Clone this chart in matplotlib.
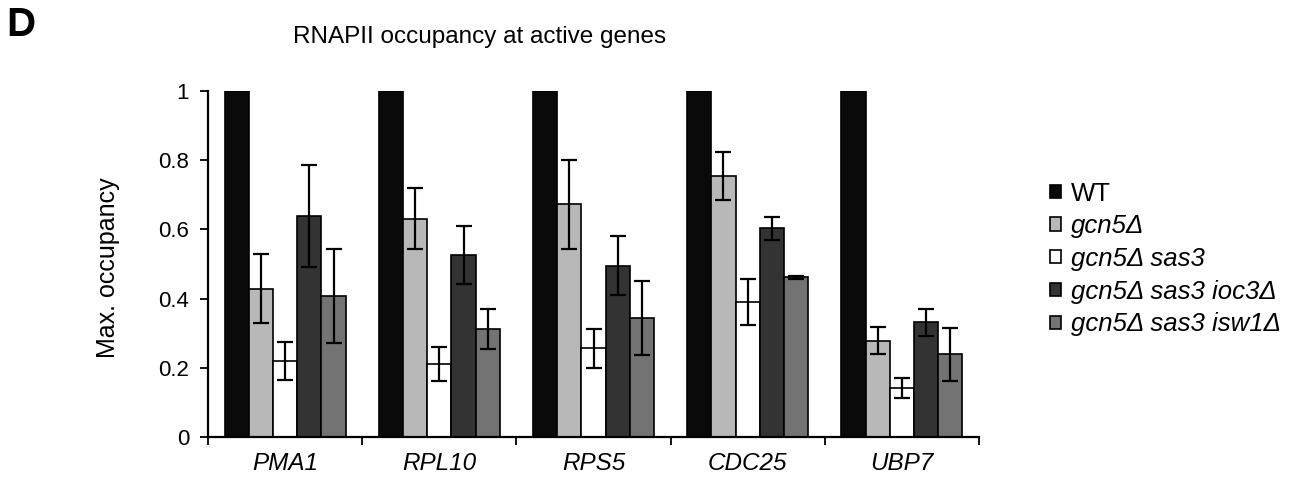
import matplotlib
matplotlib.use("Agg")
import matplotlib.pyplot as plt
import numpy as np

plt.rcParams['font.family'] = ['Liberation Sans', 'DejaVu Sans']

genes = ["PMA1", "RPL10", "RPS5", "CDC25", "UBP7"]
strains = ["WT", "gcn5Δ", "gcn5Δ sas3", "gcn5Δ sas3 ioc3Δ", "gcn5Δ sas3 isw1Δ"]
colors = ["#0a0a0a", "#b8b8b8", "#ffffff", "#333333", "#737373"]

wt = [1.0, 1.0, 1.0, 1.0, 1.0]
gcn5 = [0.429, 0.631, 0.672, 0.755, 0.278]
gcn5_sas3 = [0.219, 0.211, 0.256, 0.391, 0.142]
ioc3 = [0.638, 0.525, 0.495, 0.603, 0.331]
isw1 = [0.407, 0.312, 0.344, 0.461, 0.239]

wt_err = [0, 0, 0, 0, 0]
gcn5_err = [0.100, 0.088, 0.130, 0.069, 0.039]
gcn5_sas3_err = [0.055, 0.050, 0.057, 0.066, 0.029]
ioc3_err = [0.147, 0.084, 0.086, 0.033, 0.038]
isw1_err = [0.135, 0.057, 0.107, 0.003, 0.076]

values = [wt, gcn5, gcn5_sas3, ioc3, isw1]
errors = [wt_err, gcn5_err, gcn5_sas3_err, ioc3_err, isw1_err]

W, H = 1302, 478
fig = plt.figure(figsize=(W/100, H/100), dpi=100)
ax = fig.add_axes([208/W, 1-437/H, (979-208)/W, (437-91)/H])

n = len(strains)
w = 0.157
x = np.arange(len(genes))
for i in range(n):
    pos = x + (i - (n-1)/2) * w
    ax.bar(pos, values[i], width=w, color=colors[i], edgecolor="black",
           linewidth=1.2, label=strains[i], zorder=2)
    if i > 0:
        ax.errorbar(pos, values[i], yerr=errors[i], fmt='none', ecolor='black',
                    elinewidth=1.6, capsize=6, capthick=1.6, zorder=3)

ax.set_xlim(-0.5, len(genes) - 0.5)
ax.set_ylim(0, 1)
ax.set_yticks([0, 0.2, 0.4, 0.6, 0.8, 1.0])
ax.set_yticklabels(["0", "0.2", "0.4", "0.6", "0.8", "1"])
ax.set_xticks(np.arange(len(genes) + 1) - 0.5)
ax.set_xticklabels([])
ax.set_xticks(x, minor=True)
ax.set_xticklabels(genes, minor=True, fontsize=17.5, style='italic')
ax.tick_params(axis='x', which='minor', length=0, pad=11)
ax.tick_params(axis='x', which='major', direction='out', length=6, width=1.3)
ax.tick_params(axis='y', direction='out', length=5.5, width=1.3, labelsize=16, pad=8)
for s in ["top", "right"]:
    ax.spines[s].set_visible(False)
for s in ["left", "bottom"]:
    ax.spines[s].set_linewidth(1.6)

fig.text(108/W, 1-268/H, "Max. occupancy", fontsize=18, rotation=90,
         ha='center', va='center')
fig.text(293/W, 1-37/H, "RNAPII occupancy at active genes", fontsize=17.5,
         ha='left', va='center')
fig.text(6/W, 1-25/H, "D", fontsize=29, fontweight='bold', ha='left', va='center')

handles, labels = ax.get_legend_handles_labels()
leg = fig.legend(handles, labels, loc='center left', bbox_to_anchor=(1050/W, 1-259/H),
                 frameon=False, fontsize=18.5, handlelength=0.42, handleheight=0.42,
                 handletextpad=0.4, labelspacing=0.34, borderpad=0, borderaxespad=0)
for t in leg.get_texts()[1:]:
    t.set_style('italic')

fig.savefig("out.png", dpi=100)
